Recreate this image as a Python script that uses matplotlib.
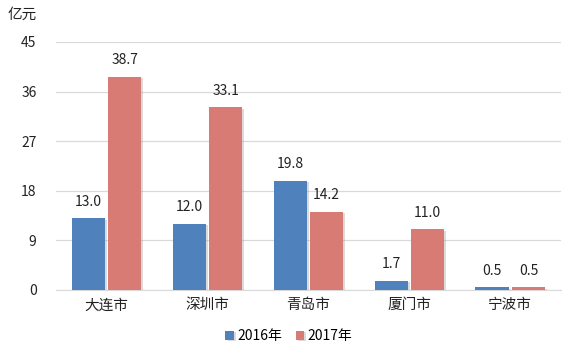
import matplotlib
matplotlib.use("Agg")
import matplotlib.pyplot as plt
import matplotlib.patheffects as pe
import numpy as np

plt.rcParams['font.family'] = ['Noto Sans CJK SC', 'DejaVu Sans']

categories = ["大连市", "深圳市", "青岛市", "厦门市", "宁波市"]
series_names = ["2016年", "2017年"]
v2016 = [13.0, 12.0, 19.8, 1.7, 0.5]
v2017 = [38.7, 33.1, 14.2, 11.0, 0.5]
yticks = [0, 9, 18, 27, 36, 45]
colors = ["#4F81BD", "#D77B74"]

fig = plt.figure(figsize=(5.69, 3.58), dpi=100)
ax = fig.add_axes([0.0985, 0.19, 0.887, 0.693])

x = np.arange(len(categories))
w = 0.33
gap = 0.015
shadow = [pe.SimplePatchShadow(offset=(1.5, -1.0), shadow_rgbFace="#999999", alpha=0.35), pe.Normal()]
for i, (vals, col) in enumerate([(v2016, colors[0]), (v2017, colors[1])]):
    off = -(w / 2 + gap) if i == 0 else (w / 2 + gap)
    bars = ax.bar(x + off, vals, width=w, color=col, label=series_names[i], zorder=3)
    for b in bars:
        b.set_path_effects(shadow)
    for xi, v in zip(x + off, vals):
        ax.annotate(f"{v:.1f}", (xi, v), xytext=(0, 7), textcoords="offset points",
                    ha="center", va="bottom", fontsize=10, color="#222222")

ax.set_xlim(-0.5, len(categories) - 0.5)
ax.set_ylim(0, 45)
ax.set_yticks(yticks)
ax.set_yticklabels([str(t) for t in yticks], fontsize=10, color="#222222")
ax.set_xticks(x)
ax.set_xticklabels(categories, fontsize=10.5, color="#222222")
ax.tick_params(axis="y", length=0, pad=14)
ax.tick_params(axis="x", length=0, pad=6)
ax.grid(axis="y", color="#D9D9D9", linewidth=0.9, zorder=0)
for s in ["top", "right", "left"]:
    ax.spines[s].set_visible(False)
ax.spines["bottom"].set_color("#D9D9D9")
ax.set_axisbelow(True)

fig.text(8 / 569, 1 - 15 / 358, "亿元", fontsize=10.5, color="#222222", ha="left", va="center")

leg = fig.legend(loc="center", bbox_to_anchor=(0.508, 1 - 336 / 358), ncol=2, frameon=False,
                 fontsize=10, handlelength=0.6, handleheight=0.6, handletextpad=0.25, columnspacing=1.0)

fig.savefig("out.png", dpi=100, facecolor="white")
